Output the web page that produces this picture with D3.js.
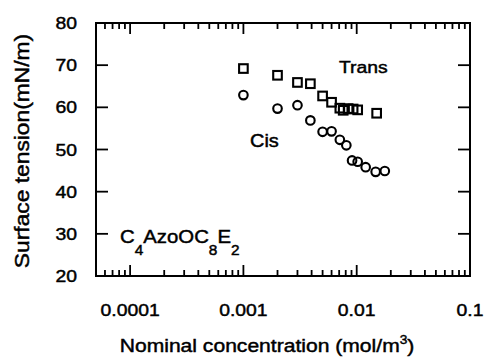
<!DOCTYPE html>
<html>
<head>
<meta charset="utf-8">
<script src="https://cdn.jsdelivr.net/npm/d3@7"></script>
<style>
  html, body { margin: 0; padding: 0; background: #fff; }
  svg { display: block; }
  text.lbl { font-family: "Liberation Sans", Arial, sans-serif; fill: #000; stroke: #000; stroke-width: 0.45px; }
</style>
</head>
<body>
<svg id="chart" width="486" height="358"></svg>
<script>
// Surface tension of C4AzoOC8E2 vs nominal concentration (mol/m^3)
const transConc = [0.001, 0.002, 0.003, 0.0039, 0.005, 0.006, 0.0071, 0.0076, 0.0084, 0.0093, 0.0102, 0.015];
const transTension = [69.2, 67.6, 65.9, 65.6, 62.7, 61.2, 59.8, 59.3, 59.7, 59.6, 59.4, 58.6];
const cisConc = [0.001, 0.002, 0.003, 0.0039, 0.005, 0.006, 0.0071, 0.0081, 0.0091, 0.0102, 0.012, 0.0147, 0.0177];
const cisTension = [62.9, 59.7, 60.5, 56.9, 54.2, 54.3, 52.3, 51.0, 47.4, 47.1, 45.8, 44.7, 44.9];
const xMajorTicks = [0.0001, 0.001, 0.01, 0.1];
const xTickLabels = ["0.0001", "0.001", "0.01", "0.1"];
const yTicks = [20, 30, 40, 50, 60, 70, 80];

const svg = d3.select("#chart");
const mLeft = 96, mRight = 470, mTop = 23, mBottom = 276;
const sx = 1.14; // horizontal stretch applied to the lettering

const x = d3.scaleLog().domain([0.00005, 0.1]).range([mLeft, mRight]);
const y = d3.scaleLinear().domain([20, 80]).range([mBottom, mTop]);

// minor log ticks: 2..9 of each decade inside the domain
const xMinor = [];
[0.00001, 0.0001, 0.001, 0.01].forEach(d => {
  for (let k = 2; k <= 9; k++) {
    const v = d * k;
    if (v > 0.00005 * 1.001 && v < 0.1 * 0.999) xMinor.push(v);
  }
});

const majorLen = 11, minorLen = 6, yTickLen = 12;

// series markers
svg.append("g").selectAll("rect").data(transConc).join("rect")
  .attr("x", d => x(d) - 4.3).attr("y", (d, i) => y(transTension[i]) - 4.3)
  .attr("width", 8.6).attr("height", 8.6)
  .attr("fill", "none").attr("stroke", "#000").attr("stroke-width", 2.1);

svg.append("g").selectAll("circle").data(cisConc).join("circle")
  .attr("cx", d => x(d)).attr("cy", (d, i) => y(cisTension[i]))
  .attr("r", 4.3)
  .attr("fill", "none").attr("stroke", "#000").attr("stroke-width", 2.1);

function label(px, py, str, size, anchor, rot) {
  const g = svg.append("g")
    .attr("transform", `translate(${px},${py})` + (rot ? ` rotate(${rot})` : ""));
  return g.append("text")
    .attr("class", "lbl")
    .attr("transform", `scale(${sx},1)`)
    .attr("text-anchor", anchor)
    .attr("font-size", size)
    .text(str);
}

// tick labels
xMajorTicks.forEach((v, i) => label(x(v), 316, xTickLabels[i], 17, "middle"));
yTicks.forEach(v => label(77, y(v) + 6, String(v), 17, "end"));

// axis titles
const xt = label(267, 352, "", 18.5, "middle");
xt.append("tspan").text("Nominal concentration (mol/m");
xt.append("tspan").attr("font-size", 12).attr("baseline-shift", "70%").text("3");
xt.append("tspan").text(")");

label(29, 151, "Surface tension(mN/m)", 20, "middle", -90);

// series annotations
label(339, 73, "Trans", 17, "start");
label(250, 147, "Cis", 17.5, "start");

// compound name with subscripts
const cn = label(120, 243, "", 18.5, "start");
cn.attr("transform", `scale(1.1,1)`);
const parts = [["C", false], ["4", true], ["AzoOC", false], ["8", true], ["E", false], ["2", true]];
parts.forEach(([t, sub], i) => {
  const ts = cn.append("tspan").text(t);
  if (sub) ts.attr("font-size", 14).attr("dy", 12);
  else ts.attr("dy", i > 0 ? -12 : 0);
});

// inward ticks on all four sides, one line per tick
const xTickSet = xMinor.map(v => ({ v, len: minorLen })).concat(xMajorTicks.map(v => ({ v, len: majorLen })));
const tickG = svg.append("g").attr("stroke", "#000").attr("stroke-width", 1.8).attr("fill", "none");
tickG.selectAll("line.xb").data(xTickSet).join("line").attr("class", "xb")
  .attr("x1", d => x(d.v)).attr("x2", d => x(d.v))
  .attr("y1", mBottom).attr("y2", d => mBottom - d.len);
tickG.selectAll("line.xt").data(xTickSet).join("line").attr("class", "xt")
  .attr("x1", d => x(d.v)).attr("x2", d => x(d.v))
  .attr("y1", mTop).attr("y2", d => mTop + d.len);
tickG.selectAll("line.yl").data(yTicks).join("line").attr("class", "yl")
  .attr("x1", mLeft).attr("x2", mLeft + yTickLen)
  .attr("y1", d => y(d)).attr("y2", d => y(d));
tickG.selectAll("line.yr").data(yTicks).join("line").attr("class", "yr")
  .attr("x1", mRight).attr("x2", mRight - yTickLen)
  .attr("y1", d => y(d)).attr("y2", d => y(d));

// frame
svg.append("rect")
  .attr("x", mLeft).attr("y", mTop)
  .attr("width", mRight - mLeft).attr("height", mBottom - mTop)
  .attr("fill", "none").attr("stroke", "#000").attr("stroke-width", 2);
</script>
</body>
</html>
